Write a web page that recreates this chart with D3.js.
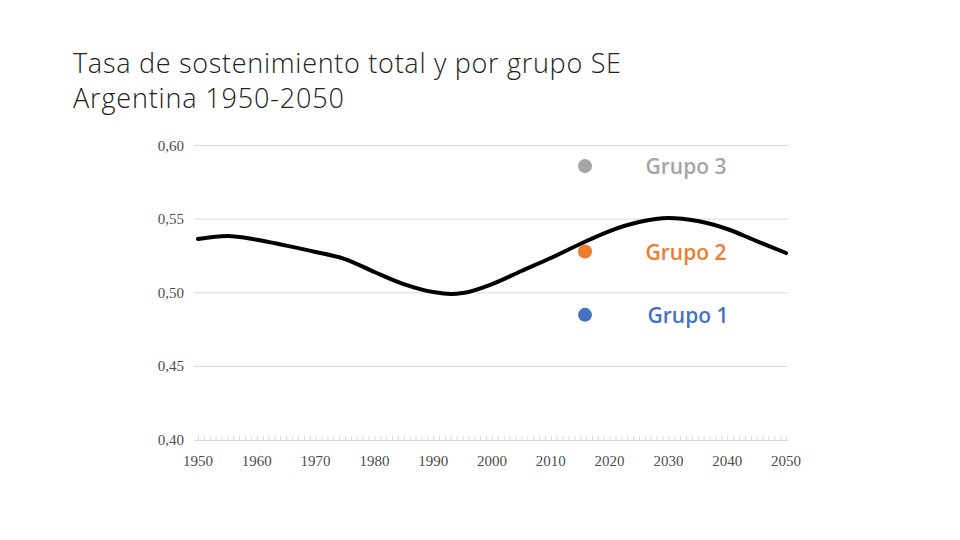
<!DOCTYPE html>
<html><head><meta charset="utf-8">
<script src="https://cdn.jsdelivr.net/npm/d3@7"></script>
<style>body{margin:0;background:#fff}</style></head>
<body><svg id="c" width="960" height="540"></svg>
<script>
const years = [1950,1955,1960,1965,1970,1975,1980,1985,1990,1993,1995,2000,2005,2010,2015,2020,2025,2030,2035,2040,2045,2050];
const total = [0.5365,0.5385,0.5360,0.5320,0.5277,0.5229,0.5141,0.5059,0.5005,0.4992,0.4998,0.5059,0.5148,0.5236,0.5331,0.5419,0.5480,0.5508,0.5487,0.5433,0.5351,0.5270];
const yTicks = [0.40,0.45,0.50,0.55,0.60];
const xTicks = [1950,1960,1970,1980,1990,2000,2010,2020,2030,2040,2050];
const legendNames = ["Grupo 3","Grupo 2","Grupo 1"];
const legendColors = ["#a5a5a5","#ed7d31","#4472c4"];
const legendValues = [0.586,0.528,0.485];

const svg = d3.select("#c");
const x = d3.scaleLinear().domain([1950,2050]).range([198,786]);
const y = d3.scaleLinear().domain([0.40,0.60]).range([440,145.5]);

svg.append("text").attr("x",73).attr("y",73).attr("font-family","Open Sans").attr("font-weight",300)
  .attr("font-size",27).attr("textLength",548).attr("lengthAdjust","spacing")
  .attr("fill","#222").text("Tasa de sostenimiento total y por grupo SE");
svg.append("text").attr("x",73).attr("y",108).attr("font-family","Open Sans").attr("font-weight",300)
  .attr("font-size",27).attr("textLength",271).attr("lengthAdjust","spacing")
  .attr("fill","#222").text("Argentina 1950-2050");

// gridlines
svg.append("g").selectAll("line").data(yTicks.slice(1)).join("line")
  .attr("x1",194).attr("x2",788).attr("y1",d=>y(d)).attr("y2",d=>y(d))
  .attr("stroke","#d9d9d9").attr("stroke-width",1);

// y labels
svg.append("g").selectAll("text").data(yTicks).join("text")
  .attr("x",184).attr("y",d=>y(d)+5).attr("text-anchor","end")
  .attr("font-family","Liberation Serif").attr("font-size",15).attr("fill","#4d4d4d")
  .text(d=>d3.format(".2f")(d).replace(".",","));

// x axis
const xAxis = d3.axisBottom(x).tickValues(d3.range(1950,2051,1)).tickSize(-4).tickFormat("");
const gx = svg.append("g").attr("transform","translate(0,440)").call(xAxis);
gx.select(".domain").attr("stroke","#d9d9d9").attr("d","M194,0.5H788");
gx.selectAll(".tick line").attr("stroke","#d9d9d9");
svg.append("g").selectAll("text").data(xTicks).join("text")
  .attr("x",d=>x(d)).attr("y",466).attr("text-anchor","middle")
  .attr("font-family","Liberation Serif").attr("font-size",15).attr("fill","#4d4d4d")
  .text(d=>d);

// line
const line = d3.line().x((d,i)=>x(years[i])).y(d=>y(d)).curve(d3.curveMonotoneX);
svg.append("path").datum(total).attr("d",line).attr("fill","none")
  .attr("stroke","#000").attr("stroke-width",4).attr("stroke-linecap","round");

// legend
const lg = svg.append("g");
lg.selectAll("circle").data(legendValues).join("circle")
  .attr("cx",585).attr("cy",d=>y(d)).attr("r",7).attr("fill",(d,i)=>legendColors[i]);
lg.selectAll("text").data(legendValues).join("text")
  .attr("x",(d,i)=>i===2?688:686).attr("y",d=>y(d)+8).attr("text-anchor","middle")
  .attr("font-family","Open Sans").attr("font-weight",600).attr("font-size",21)
  .attr("fill",(d,i)=>legendColors[i]).text((d,i)=>legendNames[i]);
</script></body></html>
